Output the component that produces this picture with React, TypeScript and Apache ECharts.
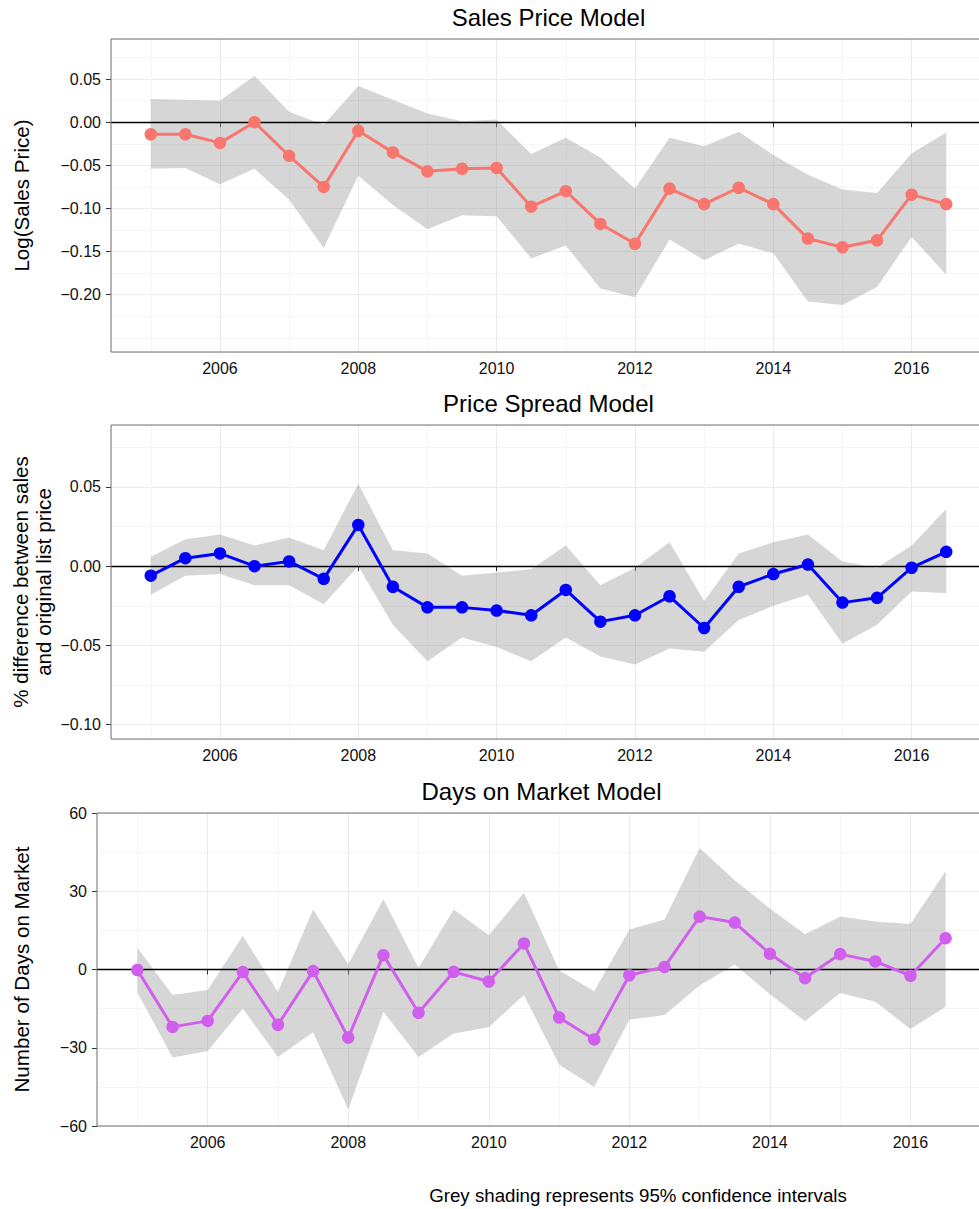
import React, { useEffect, useRef } from 'react';
import * as echarts from 'echarts';

// ---- data ----
const years = [2005, 2005.5, 2006, 2006.5, 2007, 2007.5, 2008, 2008.5, 2009, 2009.5, 2010, 2010.5,
  2011, 2011.5, 2012, 2012.5, 2013, 2013.5, 2014, 2014.5, 2015, 2015.5, 2016, 2016.5];

const priceEst = [-0.014, -0.014, -0.024, 0.000, -0.039, -0.075, -0.010, -0.035, -0.057, -0.054, -0.053, -0.098,
  -0.080, -0.118, -0.141, -0.077, -0.095, -0.076, -0.095, -0.135, -0.145, -0.137, -0.084, -0.095];
const priceHi = [0.027, 0.026, 0.025, 0.054, 0.012, -0.003, 0.042, 0.026, 0.010, 0.001, 0.003, -0.037,
  -0.018, -0.041, -0.077, -0.018, -0.028, -0.011, -0.038, -0.061, -0.078, -0.082, -0.036, -0.012];
const priceLo = [-0.054, -0.053, -0.072, -0.054, -0.090, -0.146, -0.062, -0.096, -0.124, -0.108, -0.109, -0.158,
  -0.143, -0.193, -0.203, -0.136, -0.160, -0.141, -0.152, -0.208, -0.212, -0.191, -0.133, -0.177];

const spreadEst = [-0.006, 0.005, 0.008, 0.000, 0.003, -0.008, 0.026, -0.013, -0.026, -0.026, -0.028, -0.031,
  -0.015, -0.035, -0.031, -0.019, -0.039, -0.013, -0.005, 0.001, -0.023, -0.020, -0.001, 0.009];
const spreadHi = [0.006, 0.017, 0.020, 0.013, 0.018, 0.010, 0.052, 0.010, 0.008, -0.006, -0.004, -0.002,
  0.013, -0.012, -0.001, 0.015, -0.022, 0.008, 0.015, 0.020, 0.003, -0.001, 0.013, 0.036];
const spreadLo = [-0.018, -0.006, -0.005, -0.012, -0.012, -0.024, 0.000, -0.037, -0.060, -0.045, -0.051, -0.060,
  -0.045, -0.057, -0.062, -0.052, -0.054, -0.034, -0.025, -0.018, -0.049, -0.037, -0.016, -0.017];

const daysEst = [-0.2, -22.0, -19.7, -1.0, -21.2, -0.6, -26.1, 5.5, -16.6, -0.9, -4.6, 10.0,
  -18.4, -26.8, -2.2, 1.0, 20.3, 18.0, 6.0, -3.3, 5.9, 3.1, -2.4, 12.0];
const daysHi = [8.3, -9.8, -7.9, 12.9, -8.6, 23.0, 2.0, 26.9, 0.6, 23.0, 13.1, 29.4,
  -0.3, -8.3, 15.3, 19.2, 46.6, 34.2, 23.4, 13.5, 20.3, 18.4, 17.4, 37.7];
const daysLo = [-8.8, -33.7, -31.2, -15.0, -33.5, -24.1, -53.6, -16.2, -33.5, -24.5, -22.1, -9.8,
  -36.4, -45.0, -19.3, -17.4, -6.1, 1.9, -9.5, -19.8, -9.0, -12.4, -22.8, -14.3];

const xTicks = [2006, 2008, 2010, 2012, 2014, 2016];
const priceTicks = [-0.2, -0.15, -0.1, -0.05, 0, 0.05];
const spreadTicks = [-0.1, -0.05, 0, 0.05];
const daysTicks = [-60, -30, 0, 30, 60];

const titles = ['Sales Price Model', 'Price Spread Model', 'Days on Market Model'];
const yTitles = [['Log(Sales Price)'], ['% difference between sales', 'and original list price'], ['Number of Days on Market']];
const caption = 'Grey shading represents 95% confidence intervals';

// ---- style ----
const FONT = '"Liberation Sans", Arial, Helvetica, sans-serif';
const MAJOR = '#EBEBEB';
const MINOR = '#F5F5F5';
const TXT = '#111111';
const XMIN = 2004.425;
const XMAX = 2017.075;

const near = (a: number[], v: number) => a.some((t) => Math.abs(t - v) < 1e-9);
const fmtDec = (v: number) => (v < -1e-9 ? '\u2212' : '') + Math.abs(v).toFixed(2);
const fmtInt = (v: number) => (v < -1e-9 ? '\u2212' : '') + String(Math.abs(Math.round(v)));

const panels = [
  { left: 111, top: 39, width: 875, height: 313, ymin: -0.2665, ymax: 0.0965, minor: 0.025, major: 0.05,
    ticks: priceTicks, fmt: fmtDec, est: priceEst, lo: priceLo, hi: priceHi, color: '#F8766D' },
  { left: 111, top: 425, width: 875, height: 314, ymin: -0.109, ymax: 0.089, minor: 0.025, major: 0.05,
    ticks: spreadTicks, fmt: fmtDec, est: spreadEst, lo: spreadLo, hi: spreadHi, color: '#0000FF' },
  { left: 97, top: 813, width: 889, height: 313, ymin: -60, ymax: 60, minor: 15, major: 30,
    ticks: daysTicks, fmt: fmtInt, est: daysEst, lo: daysLo, hi: daysHi, color: '#D15FEE' },
];

function buildOption() {
  const grid = panels.map((p) => ({
    left: p.left, top: p.top, width: p.width, height: p.height, z: 20,
    show: true, borderColor: '#707070', borderWidth: 1, backgroundColor: 'transparent', containLabel: false,
  }));

  const xAxis: any[] = [];
  const yAxis: any[] = [];
  const series: any[] = [];

  panels.forEach((p, i) => {
    xAxis.push({
      type: 'value', gridIndex: i, position: 'bottom', min: XMIN, max: XMAX, minInterval: 1, maxInterval: 1,
      axisLine: { show: false }, axisTick: { show: false }, axisLabel: { show: false },
      splitLine: { show: true, lineStyle: { color: MINOR, width: 1 } },
    });
    xAxis.push({
      type: 'value', gridIndex: i, position: 'bottom', min: XMIN, max: XMAX, minInterval: 2, maxInterval: 2,
      axisLine: { show: false },
      axisTick: { show: true, length: 5, lineStyle: { color: '#333333', width: 1 }, customValues: xTicks },
      axisLabel: {
        show: true, customValues: xTicks, margin: 8, color: TXT, fontSize: 16, fontFamily: FONT,
        formatter: (v: number) => (near(xTicks, v) ? String(Math.round(v)) : ''),
      },
      splitLine: { show: true, lineStyle: { color: MAJOR, width: 1 } },
    });
    yAxis.push({
      type: 'value', gridIndex: i, position: 'left', min: p.ymin, max: p.ymax, minInterval: p.minor, maxInterval: p.minor,
      axisLine: { show: false }, axisTick: { show: false }, axisLabel: { show: false },
      splitLine: { show: true, lineStyle: { color: MINOR, width: 1 } },
    });
    yAxis.push({
      type: 'value', gridIndex: i, position: 'left', min: p.ymin, max: p.ymax, minInterval: p.major, maxInterval: p.major,
      axisLine: { show: false },
      axisTick: { show: true, length: 5, lineStyle: { color: '#333333', width: 1 }, customValues: p.ticks },
      axisLabel: {
        show: true, customValues: p.ticks, margin: 10, color: TXT, fontSize: 16, fontFamily: FONT,
        formatter: (v: number) => (near(p.ticks, v) ? p.fmt(v) : ''),
      },
      splitLine: { show: true, lineStyle: { color: MAJOR, width: 1 } },
    });

    const lo = p.lo;
    const hi = p.hi;
    series.push({
      type: 'custom',
      xAxisIndex: 2 * i + 1,
      yAxisIndex: 2 * i + 1,
      silent: true,
      clip: true,
      z: 1,
      data: years.map((x, k) => [x, lo[k], hi[k]]),
      encode: { x: 0, y: [1, 2] },
      renderItem: (params: any, api: any) => {
        if (params.dataIndex !== 0) return null;
        const top = years.map((x, k) => api.coord([x, hi[k]]));
        const bot = years.map((x, k) => api.coord([x, lo[k]])).reverse();
        return {
          type: 'polygon',
          shape: { points: top.concat(bot) },
          style: { fill: 'rgba(153,153,153,0.4)', stroke: null },
        };
      },
      markLine: {
        silent: true,
        symbol: ['none', 'none'],
        label: { show: false },
        lineStyle: { color: '#000000', width: 1.3, type: 'solid' },
        emphasis: { disabled: true },
        data: [{ yAxis: 0 }],
      },
    });
    series.push({
      type: 'line',
      xAxisIndex: 2 * i + 1,
      yAxisIndex: 2 * i + 1,
      z: 10,
      silent: true,
      data: years.map((x, k) => [x, p.est[k]]),
      symbol: 'circle',
      symbolSize: 12.5,
      showAllSymbol: true,
      lineStyle: { color: p.color, width: 3 },
      itemStyle: { color: p.color },
      emphasis: { disabled: true },
    });
  });

  const graphic: any[] = [];
  panels.forEach((p, i) => {
    graphic.push({
      type: 'text', x: p.left + p.width / 2, y: p.top - 21.5,
      style: { text: titles[i], font: `24px ${FONT}`, fill: '#000', textAlign: 'center', textVerticalAlign: 'middle' },
    });
    const lines = yTitles[i];
    const cy = p.top + p.height / 2;
    if (lines.length === 1) {
      graphic.push({
        type: 'text', x: 21.5, y: cy, rotation: Math.PI / 2,
        style: { text: lines[0], font: `20.6px ${FONT}`, fill: '#000', textAlign: 'center', textVerticalAlign: 'middle' },
      });
    } else {
      graphic.push({
        type: 'text', x: 20.7, y: cy, rotation: Math.PI / 2,
        style: { text: lines[0], font: `20.6px ${FONT}`, fill: '#000', textAlign: 'center', textVerticalAlign: 'middle' },
      });
      graphic.push({
        type: 'text', x: 43.3, y: cy, rotation: Math.PI / 2,
        style: { text: lines[1], font: `20.6px ${FONT}`, fill: '#000', textAlign: 'center', textVerticalAlign: 'middle' },
      });
    }
  });
  graphic.push({
    type: 'text', x: 638, y: 1195,
    style: { text: caption, font: `18.7px ${FONT}`, fill: '#000', textAlign: 'center', textVerticalAlign: 'middle' },
  });

  return {
    animation: false,
    backgroundColor: '#ffffff',
    grid,
    xAxis,
    yAxis,
    series,
    graphic,
  };
}

export default function App() {
  const ref = useRef<HTMLDivElement>(null);
  useEffect(() => {
    if (!ref.current) return;
    const chart = echarts.init(ref.current, null, { renderer: 'svg' });
    chart.setOption(buildOption() as any);
    return () => chart.dispose();
  }, []);
  return (
    <div style={{ position: 'absolute', left: 0, top: 0, width: 979, height: 1209, overflow: 'hidden', background: '#fff' }}>
      <div ref={ref} style={{ width: 992, height: 1209 }} />
    </div>
  );
}
